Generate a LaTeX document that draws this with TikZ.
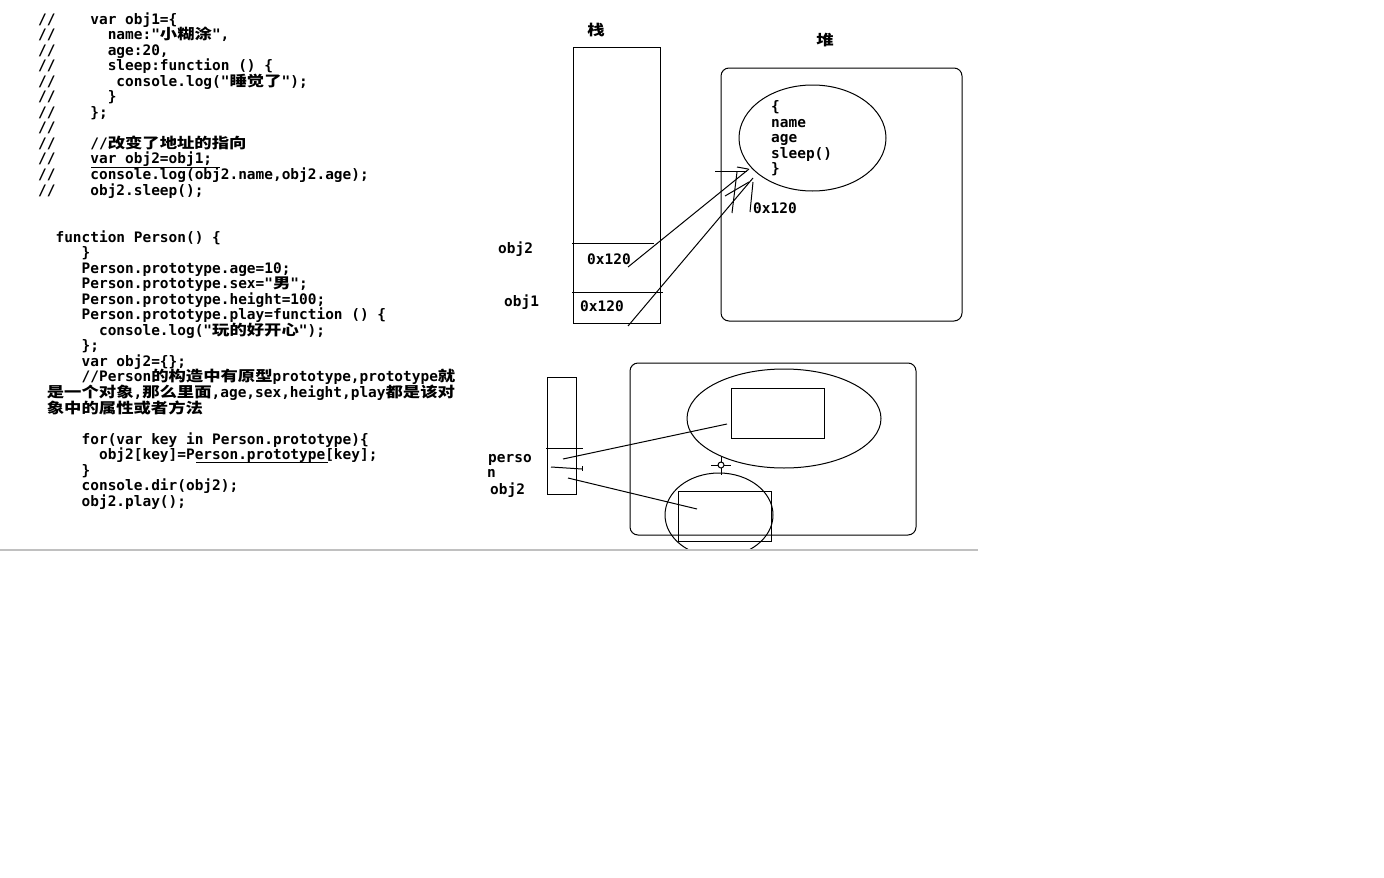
\documentclass[tikz,border=0pt]{standalone}
\usepackage{fontspec}
\newfontfamily\codefont{DejaVu Sans Mono}
\newfontfamily\zhfont[FakeStretch=1.2]{Noto Sans CJK SC}
\newcommand\zh[1]{{\zhfont\bfseries #1}}
\definecolor{rulegray}{RGB}{192,192,192}
\begin{document}
\begin{tikzpicture}[x=1pt,y=-1pt,
  code/.style={anchor=base west, inner sep=0pt, font={\fontsize{14.45}{15.5}\codefont\bfseries}},
  lbl/.style={anchor=center, inner sep=0pt, font={\fontsize{14.45}{15.5}\codefont\bfseries}},
  ln/.style={line width=1pt, black}]
\fill[white] (0,0) rectangle (1384,878);
\useasboundingbox (0,0) rectangle (1384,878);

% ---- code block 1
\node[code] (c1)  at (38,24)     {//~~~~var~obj1=\{};
\node[code] (c2)  at (38,39.55)  {//~~~~~~name:"\zh{小糊涂}",};
\node[code] (c3)  at (38,55.1)   {//~~~~~~age:20,};
\node[code] (c4)  at (38,70.65)  {//~~~~~~sleep:function~()~\{};
\node[code] (c5)  at (38,86.2)   {//~~~~~~~console.log("\zh{睡觉了}");};
\node[code] (c6)  at (38,101.75) {//~~~~~~\}};
\node[code] (c7)  at (38,117.3)  {//~~~~\};};
\node[code] (c8)  at (38,132.85) {//};
\node[code] (c9)  at (38,148.4)  {//~~~~//\zh{改变了地址的指向}};
\node[code] (c10) at (38,163.95) {//~~~~var~obj2=obj1;};
\node[code] (c11) at (38,179.5)  {//~~~~console.log(obj2.name,obj2.age);};
\node[code] (c12) at (38,195.05) {//~~~~obj2.sleep();};
\draw[ln] (91,167) -- (220,167);

% ---- code block 2
\node[code] (d0)  at (38,242)    {~~function~Person()~\{};
\node[code] (d1)  at (38,257.55) {~~~~~\}};
\node[code] (d2)  at (38,273.1)  {~~~~~Person.prototype.age=10;};
\node[code] (d3)  at (38,288.65) {~~~~~Person.prototype.sex="\zh{男}";};
\node[code] (d4)  at (38,304.2)  {~~~~~Person.prototype.height=100;};
\node[code] (d5)  at (38,319.75) {~~~~~Person.prototype.play=function~()~\{};
\node[code] (d6)  at (38,335.3)  {~~~~~~~console.log("\zh{玩的好开心}");};
\node[code] (d7)  at (38,350.85) {~~~~~\};};
\node[code] (d8)  at (38,366.4)  {~~~~~var~obj2=\{\};};
\node[code] (d9)  at (38,381.95) {~~~~~//Person\zh{的构造中有原型}prototype,prototype\zh{就}};
\node[code] (d10) at (38,397.5)  {~\zh{是一个对象},\zh{那么里面},age,sex,height,play\zh{都是该对}};
\node[code] (d11) at (38,413.05) {~\zh{象中的属性或者方法}};
\node[code] (d13) at (38,444.15) {~~~~~for(var~key~in~Person.prototype)\{};
\node[code] (d14) at (38,459.7)  {~~~~~~~obj2[key]=Person.prototype[key];};
\node[code] (d15) at (38,475.25) {~~~~~\}};
\node[code] (d16) at (38,490.8)  {~~~~~console.dir(obj2);};
\node[code] (d17) at (38,506.35) {~~~~~obj2.play();};
\draw[ln] (196,462) -- (328,462);

% ---- upper diagram: stack
\node[lbl] (stk) at (596,30) {\zh{栈}};
\node[lbl] (hp)  at (825,40) {\zh{堆}};
\draw[ln] (573,47) rectangle (660,323);
\draw[ln] (572,243) -- (654,243);
\draw[ln] (572,292) -- (663,292);
\node[code] (o2) at (498,253) {obj2};
\node[code] (o1) at (504,306) {obj1};
\node[code] (a2) at (587,264) {0x120};
\node[code] (a1) at (580,311) {0x120};

% heap
\draw[ln, rounded corners=8pt] (721,68) rectangle (962,321);
\draw[ln] (812.5,138) ellipse [x radius=73.5, y radius=53];
\node[code] (b0) at (771,111.5) {\{};
\node[code] (b1) at (771,127)   {name};
\node[code] (b2) at (771,142.5) {age};
\node[code] (b3) at (771,158)   {sleep()};
\node[code] (b4) at (771,173.5) {\}};
\node[code] (h1) at (753,213)   {0x120};

\coordinate (p2) at (628,267);
\coordinate (p1) at (628,326);
\coordinate (q2) at (749,169);
\coordinate (q1) at (753,178);
\draw[ln] (p2) -- (q2);
\draw[ln] (p1) -- (q1);
\draw[ln] (715,171) -- (747,171);
\draw[ln] (737,167) -- (748,169);
\draw[ln] (732,213) -- (737,172);
\draw[ln] (725,196) -- (749,182);
\draw[ln] (753,182) -- (750,212);

% ---- lower diagram
\draw[ln] (547,377) rectangle (576,494);
\draw[ln] (546,448) -- (583,448);
\draw[ln] (551,467) -- (582,469);
\draw[ln] (582,466) -- (582,471);
\node[code] (pn1) at (488,462) {perso};
\node[code] (pn2) at (487,477) {n};
\node[code] (pn3) at (490,494) {obj2};

\draw[ln, rounded corners=8pt] (630,363) rectangle (916,535);
\draw[ln] (784,418.5) ellipse [x radius=97, y radius=49.5];
\draw[ln] (731,388) rectangle (824,438);
\draw[ln] (721,465) circle [radius=3];
\draw[ln] (721,456) -- (721,462);
\draw[ln] (721,468) -- (721,475);
\draw[ln] (711,465) -- (718,465);
\draw[ln] (724,465) -- (731,465);
\begin{scope}
\clip (600,400) rectangle (820,549);
\draw[ln] (719,515) ellipse [x radius=54, y radius=42];
\end{scope}
\draw[ln] (678,491) rectangle (771,541);

\coordinate (s1) at (563,459);
\coordinate (t1) at (727,424);
\coordinate (s2) at (568,478);
\coordinate (t2) at (697,509);
\draw[ln] (s1) -- (t1);
\draw[ln] (s2) -- (t2);

\draw[line width=2pt, rulegray] (0,550) -- (978,550);
\end{tikzpicture}
\end{document}
